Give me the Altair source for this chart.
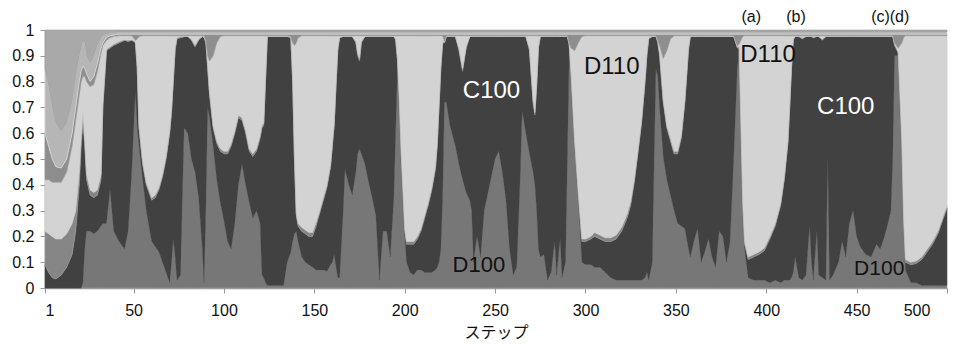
import altair as alt
import numpy as np
import pandas as pd

# ---- data (upper edge of each stacked band) ----
steps = [
    1, 3, 5, 7, 10, 13, 16, 18, 20, 21,
    22, 23, 24, 26, 28, 30, 32, 33, 35, 37,
    39, 42, 45, 47, 49, 51, 52, 53, 55, 57,
    60, 62, 64, 66, 68, 70, 71, 72, 73, 74,
    76, 77, 78, 80, 82, 84, 86, 88, 89, 90,
    91, 92, 94, 96, 98, 100, 102, 104, 106, 108,
    110, 112, 114, 116, 118, 120, 121, 122, 123, 124,
    127, 130, 133, 135, 137, 138, 139, 140, 141, 143,
    145, 147, 149, 151, 153, 155, 157, 159, 160, 161,
    162, 163, 164, 166, 167, 169, 171, 173, 174, 175,
    176, 178, 180, 182, 184, 186, 188, 190, 192, 194,
    195, 196, 197, 198, 199, 200, 201, 203, 205, 207,
    209, 211, 213, 215, 217, 218, 219, 220, 221, 222,
    223, 225, 228, 230, 232, 234, 236, 237, 238, 240,
    242, 244, 247, 250, 252, 254, 256, 258, 260, 262,
    264, 265, 267, 269, 271, 272, 273, 274, 275, 277,
    279, 281, 283, 284, 286, 287, 289, 290, 291, 292,
    294, 296, 298, 300, 303, 305, 308, 311, 314, 317,
    320, 323, 325, 327, 329, 331, 333, 334, 335, 337,
    338, 339, 340, 341, 343, 345, 347, 349, 351, 353,
    355, 357, 358, 360, 362, 364, 366, 368, 370, 372,
    374, 376, 378, 380, 382, 384, 385, 386, 387, 388,
    390, 393, 396, 399, 402, 405, 408, 410, 412, 413,
    414, 415, 416, 418, 420, 422, 424, 425, 426, 428,
    429, 431, 433, 434, 435, 437, 440, 442, 444, 446,
    448, 450, 452, 455, 458, 461, 463, 465, 467, 469,
    470, 471, 473, 475, 476, 477, 480, 483, 486, 489,
    492, 495, 498, 500,
]

d100_upper = [
    0, 0, 0, 0, 0, 0, 0, 0, 0, 0,
    .02, .15, .22, .22, .21, .22, .24, .25, .25, .38,
    .22, .18, .15, .22, .45, .76, .62, .55, .42, .30,
    .18, .16, .14, .10, .06, .02, .10, .19, .12, .03,
    .05, .35, .62, .60, .50, .45, .35, .15, .02, .30,
    .70, .66, .55, .42, .33, .26, .18, .15, .25, .40,
    .48, .40, .33, .27, .30, .25, .05, .04, .02, .01,
    .01, .01, .01, .10, .14, .18, .21, .22, .18, .12,
    .10, .09, .08, .07, .07, .07, .065, .09, .10, .13,
    .08, .04, .04, .30, .46, .40, .36, .45, .52, .54,
    .52, .48, .41, .35, .28, .03, .22, .22, .12, .35,
    .60, .85, .70, .50, .35, .20, .10, .06, .05, .07,
    .07, .06, .06, .06, .07, .08, .10, .15, .35, .72,
    .72, .63, .55, .48, .42, .37, .34, .30, .10, .20,
    .12, .30, .40, .50, .53, .45, .34, .15, .05, .08,
    .45, .685, .60, .52, .45, .40, .30, .15, .12, .13,
    .03, .06, .18, .05, .19, .04, .10, .50, .90, .80,
    .55, .35, .10, .09, .09, .08, .08, .06, .04, .03,
    .03, .03, .03, .03, .03, .03, .04, .06, .03, .10,
    .50, .85, .82, .70, .51, .42, .36, .30, .25, .24,
    .23, .15, .12, .18, .23, .10, .14, .19, .12, .08,
    .22, .20, .10, .18, .50, .85, .92, .60, .30, .15,
    .04, .03, .03, .03, .02, .03, .02, .03, .03, .03,
    .04, .06, .12, .04, .03, .05, .24, .10, .03, .22,
    .05, .04, .03, .50, .03, .05, .10, .18, .12, .25,
    .30, .20, .16, .13, .12, .17, .15, .19, .24, .30,
    .50, .90, .90, .55, .25, .07, .02, .02, .01, .01,
    .01, .01, .01, .01,
]

c100_upper = [
    .09, .06, .04, .035, .05, .08, .13, .22, .40, .55,
    .64, .55, .42, .36, .35, .36, .42, .70, .92, .93,
    .94, .95, .96, .955, .96, .95, .85, .62, .48, .40,
    .34, .35, .38, .43, .50, .60, .68, .80, .92, .965,
    .97, .97, .975, .975, .96, .935, .96, .975, .97, .95,
    .85, .75, .62, .56, .53, .52, .52, .55, .60, .66,
    .65, .60, .53, .51, .53, .58, .62, .63, .80, .975,
    .975, .975, .975, .975, .97, .80, .50, .28, .24, .22,
    .21, .20, .20, .24, .29, .34, .39, .47, .55, .63,
    .78, .92, .97, .975, .975, .975, .975, .95, .90, .88,
    .95, .975, .975, .975, .975, .975, .975, .975, .975, .975,
    .96, .88, .72, .52, .37, .22, .17, .17, .17, .19,
    .22, .27, .32, .38, .46, .55, .70, .85, .95, .95,
    .975, .975, .975, .92, .84, .93, .975, .975, .975, .975,
    .975, .975, .975, .975, .975, .975, .975, .975, .975, .975,
    .975, .975, .975, .92, .72, .67, .78, .93, .975, .975,
    .975, .975, .975, .975, .975, .975, .975, .975, .94, .82,
    .56, .36, .18, .18, .19, .20, .19, .18, .18, .19,
    .22, .27, .32, .41, .52, .64, .80, .90, .965, .975,
    .975, .975, .95, .90, .72, .62, .57, .52, .52, .58,
    .72, .92, .975, .975, .975, .975, .975, .975, .975, .975,
    .975, .975, .975, .975, .975, .93, .93, .62, .32, .17,
    .11, .12, .13, .145, .19, .24, .32, .42, .56, .70,
    .85, .96, .975, .975, .965, .975, .975, .975, .97, .975,
    .975, .96, .975, .975, .975, .975, .975, .975, .975, .975,
    .975, .975, .975, .975, .975, .975, .975, .975, .975, .975,
    .975, .94, .91, .56, .26, .10, .09, .095, .11, .14,
    .17, .21, .27, .31,
]

mid_upper = [
    .22, .21, .20, .19, .19, .21, .25, .30, .45, .58,
    .68, .57, .44, .38, .37, .38, .44, .71, .925, .935,
    .945, .955, .962, .96, .962, .955, .86, .63, .49, .41,
    .35, .36, .39, .44, .51, .61, .69, .81, .93, .97,
    .975, .975, .975, .975, .965, .94, .965, .975, .972, .955,
    .86, .76, .63, .57, .54, .53, .53, .56, .61, .67,
    .66, .61, .54, .52, .54, .59, .63, .64, .81, .975,
    .975, .975, .975, .975, .972, .81, .51, .29, .25, .235,
    .225, .215, .215, .255, .30, .35, .40, .48, .56, .64,
    .79, .93, .972, .975, .975, .975, .975, .955, .91, .89,
    .955, .975, .975, .975, .975, .975, .975, .975, .975, .975,
    .965, .89, .73, .53, .38, .23, .18, .18, .18, .20,
    .23, .28, .33, .39, .47, .56, .71, .86, .955, .952,
    .975, .975, .975, .93, .85, .935, .975, .975, .975, .975,
    .975, .975, .975, .975, .975, .975, .975, .975, .975, .975,
    .975, .975, .975, .93, .73, .68, .79, .935, .975, .975,
    .975, .975, .975, .975, .975, .975, .975, .975, .945, .83,
    .57, .37, .19, .19, .20, .215, .205, .195, .195, .205,
    .235, .285, .335, .42, .53, .645, .81, .91, .97, .975,
    .975, .975, .955, .91, .73, .63, .58, .53, .53, .59,
    .73, .93, .975, .975, .975, .975, .975, .975, .975, .975,
    .975, .975, .975, .975, .975, .935, .935, .63, .33, .18,
    .12, .13, .14, .155, .20, .25, .33, .43, .57, .71,
    .86, .965, .975, .975, .97, .975, .975, .975, .972, .975,
    .975, .965, .975, .975, .975, .975, .975, .975, .975, .975,
    .975, .975, .975, .975, .975, .975, .975, .975, .975, .975,
    .975, .945, .915, .57, .27, .11, .10, .105, .12, .15,
    .18, .22, .28, .32,
]

d110_upper = [
    .42, .42, .41, .41, .41, .45, .55, .65, .75, .80,
    .82, .82, .80, .78, .79, .84, .91, .94, .96, .97,
    .975, .978, .978, .978, .978, .96, .965, .975, .978, .978,
    .978, .978, .978, .978, .978, .978, .978, .978, .978, .978,
    .978, .978, .978, .978, .978, .978, .978, .978, .978, .96,
    .90, .88, .90, .95, .975, .978, .978, .978, .978, .978,
    .978, .978, .978, .978, .978, .978, .978, .978, .978, .978,
    .978, .978, .978, .978, .975, .95, .94, .95, .97, .978,
    .978, .978, .978, .978, .978, .978, .978, .978, .978, .978,
    .978, .978, .978, .978, .978, .978, .978, .978, .978, .978,
    .978, .978, .978, .978, .978, .978, .978, .978, .978, .978,
    .978, .978, .978, .978, .978, .978, .978, .978, .978, .978,
    .978, .978, .978, .978, .978, .978, .978, .978, .978, .955,
    .978, .978, .978, .978, .978, .978, .978, .978, .978, .978,
    .978, .978, .978, .978, .978, .978, .978, .978, .978, .978,
    .978, .978, .978, .978, .978, .978, .978, .978, .978, .978,
    .978, .978, .978, .978, .978, .978, .978, .978, .95, .93,
    .92, .95, .975, .978, .978, .978, .978, .978, .978, .978,
    .978, .978, .978, .978, .978, .978, .978, .978, .978, .978,
    .978, .978, .96, .94, .89, .92, .965, .978, .978, .978,
    .978, .978, .978, .978, .978, .978, .978, .978, .978, .978,
    .978, .978, .978, .978, .978, .94, .945, .96, .975, .978,
    .978, .978, .978, .978, .978, .978, .978, .978, .978, .978,
    .978, .978, .978, .978, .978, .978, .978, .978, .978, .978,
    .978, .978, .978, .978, .978, .978, .978, .978, .978, .978,
    .978, .978, .978, .978, .978, .978, .978, .978, .978, .978,
    .978, .95, .93, .95, .97, .978, .978, .978, .978, .978,
    .978, .978, .978, .978,
]

band1_upper = [
    .60, .55, .50, .47, .465, .50, .60, .70, .80, .84,
    .86, .85, .83, .80, .82, .87, .93, .95, .97, .978,
    .98, .984, .984, .984, .984, .984, .984, .984, .984, .984,
    .984, .984, .984, .984, .984, .984, .984, .984, .984, .984,
    .984, .984, .984, .984, .984, .984, .984, .984, .984, .984,
    .984, .984, .984, .984, .984, .984, .984, .984, .984, .984,
    .984, .984, .984, .984, .984, .984, .984, .984, .984, .984,
    .984, .984, .984, .984, .984, .984, .984, .984, .984, .984,
    .984, .984, .984, .984, .984, .984, .984, .984, .984, .984,
    .984, .984, .984, .984, .984, .984, .984, .984, .984, .984,
    .984, .984, .984, .984, .984, .984, .984, .984, .984, .984,
    .984, .984, .984, .984, .984, .984, .984, .984, .984, .984,
    .984, .984, .984, .984, .984, .984, .984, .984, .984, .984,
    .984, .984, .984, .984, .984, .984, .984, .984, .984, .984,
    .984, .984, .984, .984, .984, .984, .984, .984, .984, .984,
    .984, .984, .984, .984, .984, .984, .984, .984, .984, .984,
    .984, .984, .984, .984, .984, .984, .984, .984, .984, .984,
    .984, .984, .984, .984, .984, .984, .984, .984, .984, .984,
    .984, .984, .984, .984, .984, .984, .984, .984, .984, .984,
    .984, .984, .984, .984, .984, .984, .984, .984, .984, .984,
    .984, .984, .984, .984, .984, .984, .984, .984, .984, .984,
    .984, .984, .984, .984, .984, .984, .984, .984, .984, .984,
    .984, .984, .984, .984, .984, .984, .984, .984, .984, .984,
    .984, .984, .984, .984, .984, .984, .984, .984, .984, .984,
    .984, .984, .984, .984, .984, .984, .984, .984, .984, .984,
    .984, .984, .984, .984, .984, .984, .984, .984, .984, .984,
    .984, .984, .984, .984, .984, .984, .984, .984, .984, .984,
    .984, .984, .984, .984,
]

band2_upper = [
    .85, .78, .70, .64, .607, .64, .72, .82, .90, .93,
    .96, .95, .90, .87, .90, .94, .97, .98, .985, .99,
    .99, .992, .992, .992, .992, .992, .992, .992, .992, .992,
    .992, .992, .992, .992, .992, .992, .992, .992, .992, .992,
    .992, .992, .992, .992, .992, .992, .992, .992, .992, .992,
    .992, .992, .992, .992, .992, .992, .992, .992, .992, .992,
    .992, .992, .992, .992, .992, .992, .992, .992, .992, .992,
    .992, .992, .992, .992, .992, .992, .992, .992, .992, .992,
    .992, .992, .992, .992, .992, .992, .992, .992, .992, .992,
    .992, .992, .992, .992, .992, .992, .992, .992, .992, .992,
    .992, .992, .992, .992, .992, .992, .992, .992, .992, .992,
    .992, .992, .992, .992, .992, .992, .992, .992, .992, .992,
    .992, .992, .992, .992, .992, .992, .992, .992, .992, .992,
    .992, .992, .992, .992, .992, .992, .992, .992, .992, .992,
    .992, .992, .992, .992, .992, .992, .992, .992, .992, .992,
    .992, .992, .992, .992, .992, .992, .992, .992, .992, .992,
    .992, .992, .992, .992, .992, .992, .992, .992, .992, .992,
    .992, .992, .992, .992, .992, .992, .992, .992, .992, .992,
    .992, .992, .992, .992, .992, .992, .992, .992, .992, .992,
    .992, .992, .992, .992, .992, .992, .992, .992, .992, .992,
    .992, .992, .992, .992, .992, .992, .992, .992, .992, .992,
    .992, .992, .992, .992, .992, .992, .992, .992, .992, .992,
    .992, .992, .992, .992, .992, .992, .992, .992, .992, .992,
    .992, .992, .992, .992, .992, .992, .992, .992, .992, .992,
    .992, .992, .992, .992, .992, .992, .992, .992, .992, .992,
    .992, .992, .992, .992, .992, .992, .992, .992, .992, .992,
    .992, .992, .992, .992, .992, .992, .992, .992, .992, .992,
    .992, .992, .992, .992,
]

band_names = ["D100", "C100", "mid", "D110", "band1", "band2", "band3"]
band_fill = ["#777777", "#414141", "#868686", "#d3d3d3", "#8e8e8e", "#b6b6b6", "#a9a9a9"]
band_stroke = ["#a2a2a2", "#4a4a4a", "#9a9a9a", "#c8c8c8", "#9a9a9a", "#e4e4e4", "#9c9c9c"]

x_ticks = [1, 50, 100, 150, 200, 250, 300, 350, 400, 450, 500]
y_ticks = [0, 0.1, 0.2, 0.3, 0.4, 0.5, 0.6, 0.7, 0.8, 0.9, 1]

ann_text = ["C100", "D110", "D110", "C100", "D100", "D100", "(a)", "(b)", "(c)(d)", "500"]
ann_step = [248, 314.5, 401, 444, 241, 462.5, 391.7, 416.5, 468.6, 483.4]
ann_value = [0.763, 0.858, 0.902, 0.70, 0.091, 0.075, 1.05, 1.05, 1.05, -0.09]
ann_color = ["#ffffff", "#111111", "#111111", "#ffffff", "#111111", "#111111",
             "#111111", "#111111", "#111111", "#111111"]
ann_size = [24, 24, 24, 24, 22, 21, 16, 16, 16, 16]

# ---- build band table ----
n = len(steps)
bounds = np.vstack([
    np.zeros(n), d100_upper, c100_upper, mid_upper, d110_upper,
    band1_upper, band2_upper, np.ones(n),
]).astype(float)
bounds = np.maximum.accumulate(bounds, axis=0)

frames = []
for i, name in enumerate(band_names):
    frames.append(pd.DataFrame({
        "step": steps, "lo": bounds[i], "hi": bounds[i + 1], "band": name,
    }))
bands = pd.concat(frames, ignore_index=True)

xscale = alt.Scale(domain=[1, 500], nice=False, zero=False)
yscale = alt.Scale(domain=[0, 1], nice=False, zero=False)

x_axis = alt.Axis(
    values=x_ticks, title="ステップ",
    labelExpr="datum.value == 500 ? '' : datum.label",
    labelFont="Liberation Sans", labelFontSize=16, labelColor="#111111",
    labelPadding=9, tickSize=5, tickColor="#999999",
    domainColor="#999999", domainWidth=1.5, grid=False,
    titleFont="Noto Sans CJK JP", titleFontSize=16, titleFontWeight="normal",
    titleColor="#111111", titlePadding=6,
)
y_axis = alt.Axis(
    values=y_ticks, format=".1~f", title=None,
    labelFont="Liberation Sans", labelFontSize=16, labelColor="#111111",
    labelPadding=6, tickSize=5, tickColor="#999999",
    domainColor="#999999", domainWidth=1.5, grid=False,
)

areas = alt.Chart(bands).mark_area(interpolate="linear", strokeWidth=0.6).encode(
    x=alt.X("step:Q", scale=xscale, axis=x_axis),
    y=alt.Y("lo:Q", scale=yscale, axis=y_axis),
    y2="hi:Q",
    color=alt.Color("band:N", scale=alt.Scale(domain=band_names, range=band_fill), legend=None),
    stroke=alt.Stroke("band:N", scale=alt.Scale(domain=band_names, range=band_stroke), legend=None),
)

ann = pd.DataFrame({
    "text": ann_text, "step": ann_step, "value": ann_value,
    "color": ann_color, "size": ann_size,
})
labels = alt.Chart(ann).mark_text(
    font="Liberation Sans", align="center", baseline="middle"
).encode(
    x=alt.X("step:Q", scale=xscale, axis=x_axis),
    y=alt.Y("value:Q", scale=yscale, axis=y_axis),
    text="text:N",
    color=alt.Color("color:N", scale=None),
    size=alt.Size("size:Q", scale=None),
)

chart = alt.layer(areas, labels).properties(
    width=902, height=258,
    autosize=alt.AutoSizeParams(type="none"),
    padding={"left": 37, "top": 22, "right": 5, "bottom": 54},
    background="white",
).configure_view(strokeWidth=0)

chart.save("out.html", embed_options={"renderer": "svg", "actions": False})
